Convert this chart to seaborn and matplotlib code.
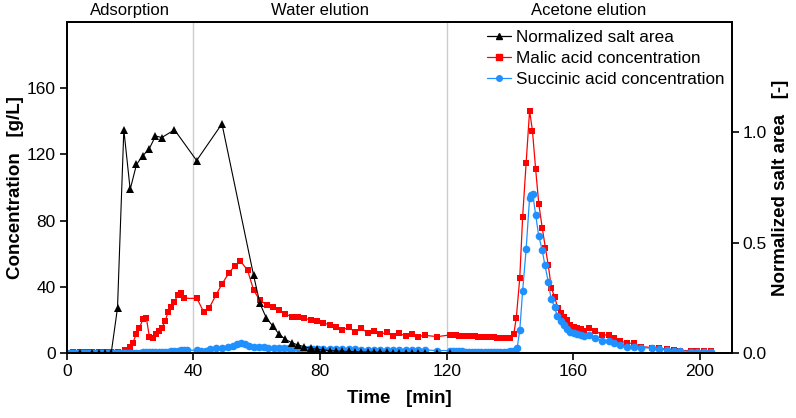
import matplotlib
matplotlib.use("Agg")
import matplotlib.pyplot as plt
from matplotlib.lines import Line2D
import seaborn as sns
import pandas as pd

# Normalized salt area (right axis)
salt_t = [4, 8, 10, 12, 14, 16, 18, 20, 22, 24, 26, 28, 30, 34, 41, 49,
          59, 61, 63, 65, 67, 69, 71, 73, 75, 77, 79, 81, 83, 85, 87, 89,
          91, 93, 95, 97, 99, 101, 103, 105, 107, 109, 111, 113, 117, 121]
salt_v = [0, 0, 0, 0, 0, 0.205, 1.011, 0.741, 0.854, 0.894, 0.924, 0.983, 0.976, 1.011, 0.872, 1.038,
          0.352, 0.225, 0.160, 0.124, 0.087, 0.063, 0.048, 0.037, 0.030, 0.022, 0.018, 0.015, 0.012, 0.010, 0.009, 0.008,
          0.007, 0.006, 0.005, 0.005, 0.004, 0.004, 0.003, 0.003, 0.003, 0.002, 0.002, 0.002, 0.002, 0.002]

# Malic acid concentration [g/L]
malic_t = [0, 2, 4, 6, 8, 10, 12, 14, 16,
           18.4, 19.8, 20.9, 21.9, 22.9, 24.0, 25.1, 26.1, 27.2, 28.1, 29.2, 30.0, 31.1, 31.9, 33.0, 34.0,
           35.0, 36.0, 37.1, 41.1, 43.2, 45.0, 47.1, 49.0, 51.1, 53.0, 54.8, 57.1, 59.0, 60.9, 63.2, 65.1,
           67.1, 69.0, 71.1, 73.0, 75.0, 77.1, 79.0,
           81, 83, 85, 87, 89, 91, 93, 95, 97, 99, 101, 103, 105, 107, 109, 111, 113, 117,
           121, 122, 123, 124, 125, 126, 127, 128, 129, 130, 131, 132, 133, 134, 135, 136, 137, 138, 139, 140,
           141.2, 142.0, 143.1, 144.0, 145.1, 146.2, 147.1, 148.1, 149.1, 150.2, 151.2, 152.1, 153.1, 154.1,
           155.1, 156.0, 157.0, 158.1, 159.1, 160.2, 161.2, 162.3, 163.3, 164.9, 167.0, 169.1, 171.2, 172.8,
           174.9, 177.0, 179.1, 181.3, 185.0, 187.0, 189.7, 191.8, 193.7, 197.1, 199.2, 201.3, 203.4]
malic_v = [0.4, 0.5, 0.5, 0.5, 0.6, 0.6, 0.7, 0.8, 1.0,
           2.0, 4.0, 6.4, 11.6, 15.0, 20.5, 21.4, 9.6, 9.4, 11.6, 13.4, 15.4, 19.4, 24.7, 28.0, 31.0,
           35.1, 36.1, 33.1, 33.1, 25.0, 27.4, 35.1, 41.7, 48.1, 52.7, 55.7, 50.1, 38.1, 32.1, 29.1, 28.0,
           26.0, 23.6, 22.0, 22.0, 21.1, 20.0, 19.4,
           18.4, 17.0, 16.0, 14.0, 15.6, 13.0, 15.0, 12.4, 13.6, 11.4, 12.6, 10.6, 12.0, 10.4, 11.4, 10.0, 10.8, 10.0,
           11.0, 10.9, 10.8, 10.6, 10.5, 10.4, 10.3, 10.2, 10.1, 10.0, 9.9, 9.8, 9.7, 9.6, 9.5, 9.4, 9.3, 9.2, 9.1, 9.4,
           11.6, 21.4, 45.5, 82.2, 114.6, 146.3, 134.3, 111.3, 90.2, 75.5, 63.5, 53.1, 39.1, 34.0,
           27.4, 24.1, 22.0, 20.0, 17.0, 15.6, 15.0, 14.4, 13.6, 15.0, 13.6, 11.0, 11.0, 9.0,
           7.4, 6.0, 6.0, 4.0, 3.4, 3.0, 2.4, 2.0, 1.6, 1.6, 1.4, 1.4, 1.4]

# Succinic acid concentration [g/L]
succ_t = [0, 1, 2, 3, 4, 5, 6, 7, 8, 9, 10, 11, 12, 13, 14, 15, 16, 17, 18, 19, 20,
          21, 22, 23, 24, 25, 26, 27, 28, 29, 30, 31, 32, 33, 34, 35, 36, 37, 38,
          41, 42.5, 44, 45.3, 47.2, 49.0, 50.8, 52.4, 53.7, 55.0, 56.2, 57.6, 59.0, 60.6, 62.2, 63.7,
          65.3, 66.9, 68.5, 70.1, 71.6, 73.2, 74.8, 76.4, 77.9, 79.5,
          81, 83, 85, 87, 89, 91, 93, 95, 97, 99, 101, 103, 105, 107, 109, 111, 113, 117,
          121, 122, 123, 124, 125, 126, 127, 128, 129, 130, 131, 132, 133, 134, 135, 136, 137, 138, 139, 140, 141,
          142.3, 143.1, 144.0, 145.1, 146.2, 146.7, 147.2, 148.1, 149.1, 150.2, 151.0, 152.1, 153.0, 154.1,
          154.9, 156.0, 157.0, 158.1, 159.1, 160.2, 161.2, 162.3, 163.3, 164.9, 167.0, 169.1, 171.2, 172.8,
          174.9, 177.0, 179.1, 181.3, 185.0, 187.0, 189.7, 191.8, 193.7, 197.1, 199.2, 201.3, 203.4]
succ_v = [0.3, 0.3, 0.3, 0.3, 0.3, 0.3, 0.3, 0.3, 0.3, 0.3, 0.3, 0.3, 0.3, 0.3, 0.3, 0.3, 0.3, 0.3, 0.3, 0.3, 0.3,
          0.4, 0.4, 0.4, 0.5, 0.5, 0.5, 0.6, 0.6, 0.7, 0.8, 0.9, 1.0, 1.1, 1.3, 1.5, 1.8, 2.0, 1.8,
          1.8, 1.2, 1.6, 2.6, 3.0, 3.4, 4.0, 4.6, 5.4, 6.0, 5.6, 4.6, 4.0, 3.6, 3.6, 3.4,
          3.4, 3.4, 3.0, 3.0, 3.0, 2.6, 2.6, 2.6, 2.6, 2.6,
          2.4, 2.4, 2.4, 2.3, 2.3, 2.3, 2.2, 2.2, 2.2, 2.2, 2.1, 2.1, 2.1, 2.0, 2.0, 2.0, 2.0, 1.6,
          1.6, 1.6, 1.4, 1.2, 1.1, 1.0, 1.0, 1.0, 1.0, 1.0, 1.0, 1.0, 1.0, 1.0, 1.0, 1.0, 1.0, 1.0, 1.0, 1.1, 1.4,
          3.4, 14.0, 37.5, 62.7, 93.8, 95.2, 96.2, 83.6, 70.6, 62.1, 53.5, 43.1, 32.7, 28.0,
          22.4, 19.6, 17.0, 14.4, 13.0, 12.0, 11.6, 11.0, 10.4, 11.0, 9.0, 7.6, 7.6, 6.0,
          5.0, 4.0, 4.0, 3.4, 3.0, 2.6, 2.0, 1.6, 1.4, 1.0, 1.0, 1.0, 1.0]

phase_x = [20, 80, 165]
phase_labels = ["Adsorption", "Water elution", "Acetone elution"]
phase_bounds = [40, 120]

salt = pd.DataFrame({"time": salt_t, "value": salt_v})
malic = pd.DataFrame({"time": malic_t, "value": malic_v})
succ = pd.DataFrame({"time": succ_t, "value": succ_v})

sns.set_style("ticks")
plt.rcParams["font.family"] = ["Liberation Sans", "DejaVu Sans"]
plt.rcParams["text.color"] = "black"
plt.rcParams["axes.labelcolor"] = "black"

red = "#ff0000"
blue = "#1e90ff"

fig = plt.figure(figsize=(7.96, 4.18), dpi=100)
ax = fig.add_axes([0.084, 0.155, 0.835, 0.793])

for b in phase_bounds:
    ax.axvline(b, color="#cccccc", lw=1, zorder=0)

sns.lineplot(data=malic, x="time", y="value", ax=ax, color=red, marker="s",
             markersize=5, markeredgewidth=0, linewidth=0.9, legend=False)
sns.lineplot(data=succ, x="time", y="value", ax=ax, color=blue, marker="o",
             markersize=5.5, markeredgewidth=0, linewidth=0.9, legend=False)

ax2 = ax.twinx()
sns.lineplot(data=salt, x="time", y="value", ax=ax2, color="black", marker="^",
             markersize=6, markeredgewidth=0, linewidth=0.8, legend=False)

ax.set_xlim(0, 210)
ax.set_ylim(0, 200)
ax2.set_ylim(0, 1.5)
ax.set_xticks([0, 40, 80, 120, 160, 200])
ax.set_yticks([0, 40, 80, 120, 160])
ax2.set_yticks([0, 0.5, 1.0])
ax2.set_yticklabels(["0.0", "0.5", "1.0"])

for a in (ax, ax2):
    for lab in a.get_xticklabels() + a.get_yticklabels():
        lab.set_fontsize(12.5)
    a.tick_params(direction="out", length=5, width=1.2, colors="black", pad=3)
    for s in a.spines.values():
        s.set_visible(True)
        s.set_linewidth(1.3)
        s.set_color("black")

ax.set_xlabel("Time   [min]", fontsize=13.5, fontweight="bold", labelpad=8, color="black")
ax.set_ylabel("Concentration   [g/L]", fontsize=13.5, fontweight="bold", labelpad=2, color="black")
ax2.set_ylabel("Normalized salt area   [-]", fontsize=13.5, fontweight="bold", labelpad=4, color="black")

for xp, lab in zip(phase_x, phase_labels):
    ax.text(xp, 1.012, lab, transform=ax.get_xaxis_transform(), ha="center",
            va="bottom", fontsize=12, color="black")

handles = [
    Line2D([], [], color="black", marker="^", markersize=4, linewidth=0.9),
    Line2D([], [], color=red, marker="s", markersize=4, linewidth=0.9),
    Line2D([], [], color=blue, marker="o", markersize=4, linewidth=0.9),
]
labels = ["Normalized salt area", "Malic acid concentration", "Succinic acid concentration"]
leg = ax2.legend(handles, labels, loc="upper right", bbox_to_anchor=(1.01, 1.015), frameon=False,
                 fontsize=12.3, handlelength=1.4, handletextpad=0.3, labelspacing=0.35, borderaxespad=0.4)
for txt in leg.get_texts():
    txt.set_color("black")

fig.savefig("out.png", dpi=100)
